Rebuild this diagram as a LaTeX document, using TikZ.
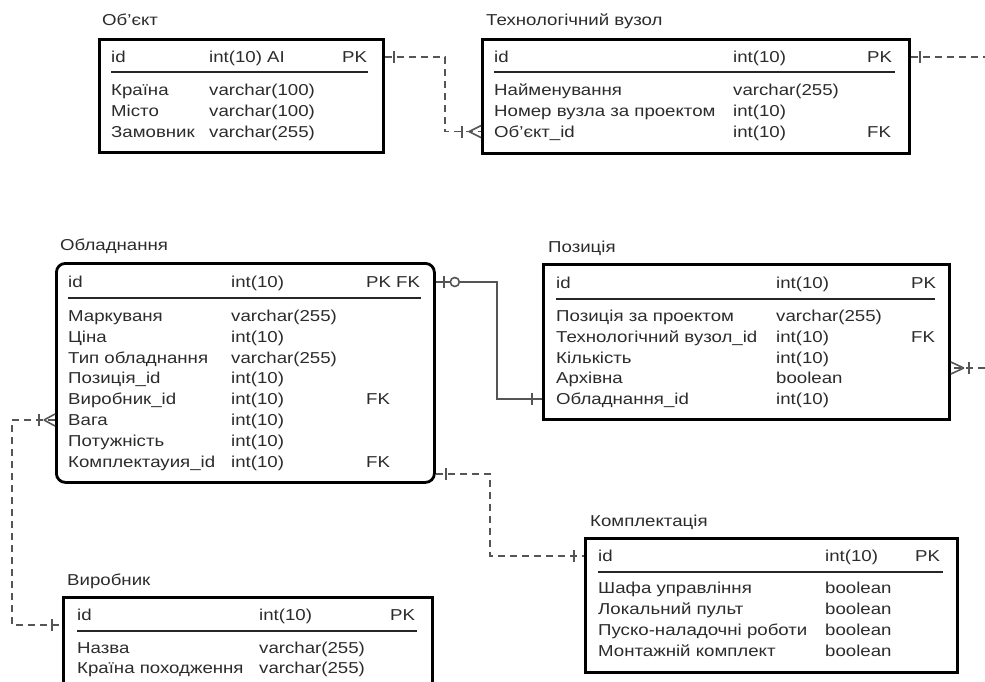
\documentclass[tikz,border=0pt]{standalone}
\usepackage{fontspec}
\setmainfont{Liberation Sans}[FakeStretch=1.18]
\usetikzlibrary{calc}
\definecolor{ink}{HTML}{2B2B2B}
\definecolor{wire}{HTML}{555555}
\newlength{\colA}
\newlength{\colB}
\newcommand{\fld}[3]{\makebox[\colA][l]{#1}\makebox[\colB][l]{#2}#3}
\tikzset{
  tbl/.style={draw=black, line width=2.8pt, anchor=north west, inner sep=0pt},
  ttl/.style={anchor=west, inner sep=0pt, text=ink, font=\fontsize{15.8}{19}\selectfont, text height=11pt, text depth=0pt},
  cell/.style={ttl},
  sep/.style={draw=black!85, line width=1.4pt},
  link/.style={draw=wire, line width=1.6pt},
  dlink/.style={link, dash pattern=on 7pt off 5pt}
}
\begin{document}
\begin{tikzpicture}[x=1pt,y=-1pt]
    \useasboundingbox (0,0) rectangle (985,681);
    \node[ttl] (obj-t) at (102,20) {Об’єкт};
    \node[tbl, minimum width=284pt, minimum height=113pt] (obj) at (98,38) {};
    \setlength{\colA}{98pt}\setlength{\colB}{133pt}
    \node[cell] (obj-id) at (111,57) {\fld{id}{int(10) AI}{PK}};
    \draw[sep] (111,72) -- (368,72);
    \foreach \nm/\ty/\ky [count=\i] in {Країна/varchar(100)/{}, Місто/varchar(100)/{}, Замовник/varchar(255)/{}}
        \node[cell] (obj-\i) at (111,69.2+20.8*\i) {\fld{\nm}{\ty}{\ky}};
    \node[ttl] (tech-t) at (486,20) {Технологічний вузол};
    \node[tbl, minimum width=427pt, minimum height=114pt] (tech) at (481,38) {};
    \setlength{\colA}{239pt}\setlength{\colB}{134pt}
    \node[cell] (tech-id) at (494,57) {\fld{id}{int(10)}{PK}};
    \draw[sep] (494,72) -- (895,72);
    \foreach \nm/\ty/\ky [count=\i] in {Найменування/varchar(255)/{}, Номер вузла за проектом/int(10)/{}, Об’єкт\_id/int(10)/FK}
        \node[cell] (tech-\i) at (494,69.2+20.8*\i) {\fld{\nm}{\ty}{\ky}};
    \node[ttl] (equip-t) at (60,245) {Обладнання};
    \node[tbl, rounded corners=9pt, minimum width=378pt, minimum height=219pt] (equip) at (55,262) {};
    \setlength{\colA}{163pt}\setlength{\colB}{135pt}
    \node[cell] (equip-id) at (68,282) {\fld{id}{int(10)}{PK FK}};
    \draw[sep] (68,298) -- (421,298);
    \foreach \nm/\ty/\ky [count=\i] in {Маркуваня/varchar(255)/{}, Ціна/int(10)/{}, Тип обладнання/varchar(255)/{}, Позиція\_id/int(10)/{}, Виробник\_id/int(10)/FK, Вага/int(10)/{}, Потужність/int(10)/{}, Комплектауия\_id/int(10)/FK}
        \node[cell] (equip-\i) at (68,295.2+20.8*\i) {\fld{\nm}{\ty}{\ky}};
    \node[ttl] (pos-t) at (548,247) {Позиція};
    \node[tbl, minimum width=406pt, minimum height=155pt] (pos) at (542,263) {};
    \setlength{\colA}{220pt}\setlength{\colB}{135pt}
    \node[cell] (pos-id) at (556,283) {\fld{id}{int(10)}{PK}};
    \draw[sep] (556,299) -- (935,299);
    \foreach \nm/\ty/\ky [count=\i] in {Позиція за проектом/varchar(255)/{}, Технологічний вузол\_id/int(10)/FK, Кількість/int(10)/{}, Архівна/boolean/{}, Обладнання\_id/int(10)/{}}
        \node[cell] (pos-\i) at (556,295.2+20.8*\i) {\fld{\nm}{\ty}{\ky}};
    \node[ttl] (kompl-t) at (590,521) {Комплектація};
    \node[tbl, minimum width=372pt, minimum height=134pt] (kompl) at (584,537) {};
    \setlength{\colA}{227pt}\setlength{\colB}{90pt}
    \node[cell] (kompl-id) at (598,556) {\fld{id}{int(10)}{PK}};
    \draw[sep] (598,572) -- (943,572);
    \foreach \nm/\ty [count=\i] in {Шафа управління/boolean, Локальний пульт/boolean, Пуско-наладочні роботи/boolean, Монтажній комплект/boolean}
        \node[cell] (kompl-\i) at (598,567+21*\i) {\fld{\nm}{\ty}{}};
    \node[ttl] (vyr-t) at (67,580) {Виробник};
    \node[tbl, minimum width=369pt, minimum height=110pt] (vyr) at (62,596) {};
    \setlength{\colA}{182pt}\setlength{\colB}{131pt}
    \node[cell] (vyr-id) at (77,615) {\fld{id}{int(10)}{PK}};
    \draw[sep] (77,631) -- (417,631);
    \foreach \nm/\ty [count=\i] in {Назва/varchar(255), Країна походження/varchar(255)}
        \node[cell] (vyr-\i) at (77,628+20*\i) {\fld{\nm}{\ty}{}};
    \coordinate (rim) at (985,0);
    \coordinate (jogA) at (445,0);
    \coordinate (jogB) at (497,0);
    \coordinate (jogC) at (490,0);
    \coordinate (jogD) at (12,0);
    \coordinate (pos-m) at ($(pos-3)!.5!(pos-4)$);
    \coordinate (equip-lo) at ($(equip-8)+(0,12.5)$);
    \coordinate (vyr-in) at ($(vyr-id)+(0,10)$);
    \draw[dlink] (obj.east |- obj-id) -- (jogA |- obj-id) -- (jogA |- tech-3) -- (tech.west |- tech-3);
    \draw[link] (obj.east |- obj-id) ++(9,-6) -- ++(0,12);
    \draw[link] (tech.west |- tech-3) ++(-19,-6) -- ++(0,12);
    \draw[link] (tech.west |- tech-3) ++(-12,0) -- ++(12,-6) ++(-12,6) -- ++(12,6);
    \draw[dlink] (tech.east |- tech-id) -- (rim |- tech-id);
    \draw[link] (tech.east |- tech-id) ++(9,-6) -- ++(0,12);
    \draw[dlink] (rim |- pos-m) -- (pos.east |- pos-m);
    \draw[link] (pos.east |- pos-m) ++(18,-6) -- ++(0,12);
    \draw[link] (pos.east |- pos-m) ++(13,0) -- ++(-13,-6) ++(13,6) -- ++(-13,6);
    \draw[link] (equip.east |- equip-id) -- (jogB |- equip-id) -- (jogB |- pos-5) -- (pos.west |- pos-5);
    \draw[link] (equip.east |- equip-id) ++(8,-6) -- ++(0,12);
    \draw[link, fill=white] (equip.east |- equip-id) ++(19,0) circle (4.5);
    \draw[link] (pos.west |- pos-5) ++(-10,-6) -- ++(0,12);
    \draw[dlink] (equip.east |- equip-lo) -- (jogC |- equip-lo) -- (jogC |- kompl-id) -- (kompl.west |- kompl-id);
    \draw[link] (equip.east |- equip-lo) ++(10,-6) -- ++(0,12);
    \draw[link] (kompl.west |- kompl-id) ++(-10,-6) -- ++(0,12);
    \draw[dlink] (equip.west |- equip-6) -- (jogD |- equip-6) -- (jogD |- vyr-in) -- (vyr.west |- vyr-in);
    \draw[link] (equip.west |- equip-6) ++(-16,-6) -- ++(0,12);
    \draw[link] (equip.west |- equip-6) ++(-11,0) -- ++(11,-6) ++(-11,6) -- ++(11,6);
    \draw[link] (vyr.west |- vyr-in) ++(-10,-6) -- ++(0,12);
\end{tikzpicture}
\end{document}
